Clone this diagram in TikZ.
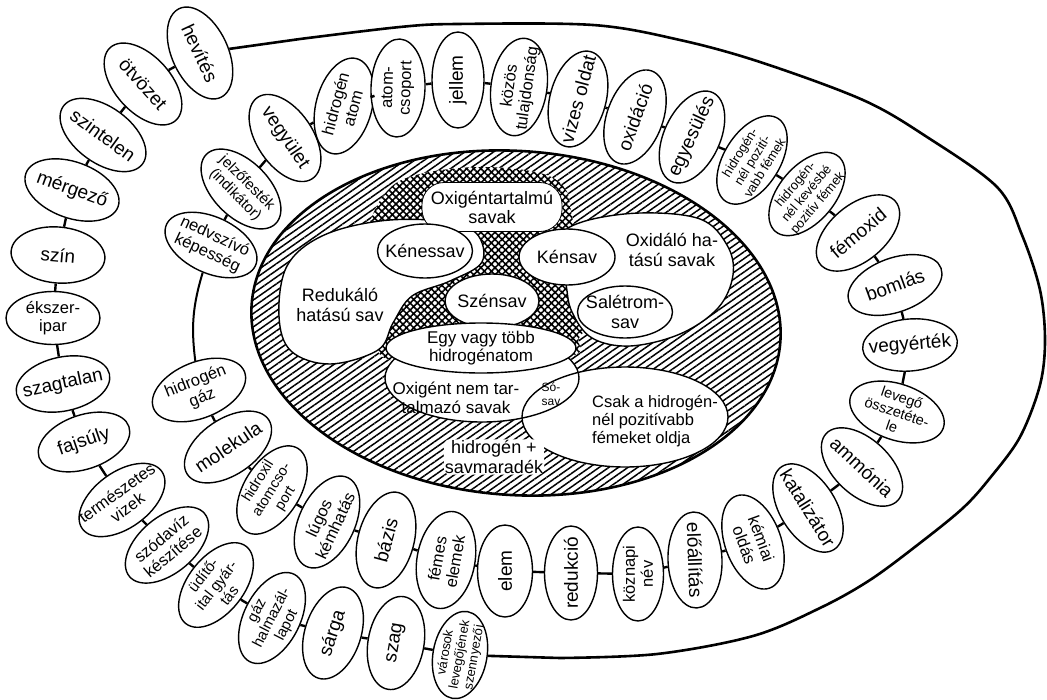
\documentclass[tikz,border=0pt]{standalone}
\usepackage{fontspec}
\setmainfont{Liberation Sans}
\usetikzlibrary{shapes.geometric,patterns.meta}

\tikzset{
  term/.style={ellipse, draw, fill=white, line width=1.4pt, minimum width=98pt, minimum height=56pt,
    inner sep=-16pt, align=center, font=\fontsize{19}{21}\selectfont},
  twoline/.style={font=\fontsize{16.5}{18}\selectfont},
  threeline/.style={font=\fontsize{13}{14.5}\selectfont},
  acid/.style={ellipse, draw, fill=white, line width=1.4pt, inner sep=-14pt, align=center,
    font=\fontsize{18}{20}\selectfont},
  label/.style={align=center, font=\fontsize{18}{20}\selectfont},
  chainlink/.style={line width=2.4pt},
  bigline/.style={line width=2.6pt, line join=round},
  whiteblob/.style={fill=white, draw, line width=1.4pt},
  hatch/.style={pattern={Lines[angle=35,distance=5.5pt,line width=1.5pt]}},
  checks/.style={pattern={Hatch[angle=45,distance=5pt,line width=1.6pt]}},
}

\begin{document}
\begin{tikzpicture}[x=1pt,y=-1pt]
\useasboundingbox (0,0) rectangle (1047,699);

% hatched acid field
\fill[hatch, rotate around={-4:(516,323)}] (516,323) ellipse [x radius=265, y radius=172];
\draw[line width=2.6pt, rotate around={-4:(516,323)}] (516,323) ellipse [x radius=265, y radius=172];
\fill[white] plot[smooth cycle, tension=0.6] coordinates {(368,230) (388,190) (420,174) (480,167) (540,173) (566,190) (575,225) (605,262) (592,318) (579,338) (572,356) (480,368) (390,360) (377,338) (365,290)};
\fill[checks] plot[smooth cycle, tension=0.6] coordinates {(368,230) (388,190) (420,174) (480,167) (540,173) (566,190) (575,225) (605,262) (592,318) (579,338) (572,356) (480,368) (390,360) (377,338) (365,290)};

% white fields
\filldraw[whiteblob] plot[smooth cycle, tension=0.6] coordinates {(279,316) (287,266) (322,236) (380,221) (440,221) (476,233) (482,262) (450,281) (412,296) (393,323) (378,350) (330,364) (291,351)};
\filldraw[whiteblob] plot[smooth cycle, tension=0.6] coordinates {(560,240) (582,222) (640,213) (700,219) (727,245) (733,275) (718,308) (680,334) (630,346) (592,338) (572,312) (566,284)};
\node[label] (redukalo) at (340,305) {Redukáló\\hatású sav};
\node[label] (oxidalo) at (672,250) {Oxidáló ha-\\tású savak};
\node[draw, fill=white, line width=0.8pt, rounded corners=22pt, minimum width=140pt, minimum height=49pt, label, font=\fontsize{18}{19}\selectfont] (oxigentart) at (492,207) {Oxigéntartalmú\\savak};
\node[acid, minimum width=95pt, minimum height=54pt] (kenessav) at (425,251) {Kénessav};
\node[acid, minimum width=96pt, minimum height=56pt] (kensav) at (567,257) {Kénsav};
\node[acid, minimum width=94pt, minimum height=54pt] (szensav) at (492,301) {Szénsav};
\node[acid, minimum width=95pt, minimum height=52pt] (saletromsav) at (625,312) {Salétrom-\\sav};

\fill[white] (482,378) ellipse [x radius=97, y radius=44];
\fill[white] (625,417) ellipse [x radius=103, y radius=50];
\draw[line width=1.4pt] (482,378) ellipse [x radius=97, y radius=44];
\draw[line width=1.4pt] (625,417) ellipse [x radius=103, y radius=50];
\node[acid, minimum width=190pt, minimum height=50pt, font=\fontsize{17}{18}\selectfont] (egyvagy) at (481,348) {Egy vagy több\\hidrogénatom};
\node[label, font=\fontsize{17}{19}\selectfont] (oxigentnem) at (456,398) {Oxigént nem tar-\\talmazó savak};
\node[label, font=\fontsize{12}{13.5}\selectfont] (sosav) at (551,394) {Só-\\sav};
\node[label, align=left, font=\fontsize{16.5}{18}\selectfont] (csak) at (655,421) {Csak a hidrogén-\\nél pozitívabb\\fémeket oldja};
\node[label, fill=white, rounded corners=6pt, inner sep=1pt] (savmaradek) at (494,457) {hidrogén +\\ savmaradék};

% outer chain
\node[term, rotate=-65] (hevites) at (200,53) {hevítés};
\node[term, rotate=-48] (otvozet) at (143,84) {ötvözet};
\node[term, rotate=-36] (szintelen) at (103,135) {szintelen};
\node[term, rotate=-20] (mergezo) at (72,190) {mérgező};
\node[term, rotate=-5, minimum width=94pt] (szin) at (58,255) {szín};
\node[term, twoline, minimum width=94pt, minimum height=53pt] (ekszeripar) at (53,318) {ékszer-\\ipar};
\node[term, rotate=12, minimum width=95pt, minimum height=54pt] (szagtalan) at (63,384) {szagtalan};
\node[term, rotate=19, minimum width=95pt, minimum height=54pt] (fajsuly) at (84,442) {fajsúly};
\node[term, twoline, rotate=36] (termeszetes) at (122,500) {természetes\\vizek};
\node[term, twoline, rotate=40] (szodaviz) at (167,545) {szódavíz\\készítése};
\node[term, rotate=52, font=\fontsize{15}{16.5}\selectfont] (uditoital) at (216,585) {üdítő-\\ital gyár-\\tás};
\node[term, rotate=63, font=\fontsize{15}{16.5}\selectfont] (gaz) at (272,618) {gáz\\halmazál-\\lapot};
\node[term, rotate=72, minimum width=95pt] (sarga) at (333,633) {sárga};
\node[term, rotate=80, minimum width=94pt] (szag) at (396,643) {szag};
\node[term, threeline, rotate=80, minimum width=88pt, minimum height=54pt] (varosok) at (460,655) {városok\\levegőjének\\szennyezői};

% inner chain
\node[term, rotate=-56] (vegyulet) at (285,138) {vegyület};
\node[term, twoline, rotate=75] (hidrogenatom) at (344,106) {hidrogén\\atom};
\node[term, twoline, rotate=88, minimum height=54pt] (atomcsoport) at (398,88) {atom-\\csoport};
\node[term, rotate=90, minimum width=96pt, minimum height=52pt] (jellem) at (458,80) {jellem};
\node[term, twoline, rotate=82, minimum height=56pt] (kozos) at (519,87) {közös\\tulajdonság};
\node[term, rotate=75] (vizes) at (578,99) {vizes oldat};
\node[term, rotate=70] (oxidacio) at (635,117) {oxidáció};
\node[term, rotate=65] (egyesules) at (692,137) {egyesülés};
\node[term, threeline, rotate=58] (pozitivabb) at (752,160) {hidrogén-\\nél pozití-\\vabb fémek};
\node[term, threeline, rotate=50] (kevesbe) at (807,194) {hidrogén-\\nél kevésbé\\pozitív fémek};
\node[term, rotate=40] (femoxid) at (858,233) {fémoxid};
\node[term, rotate=20, minimum height=54pt] (bomlas) at (895,285) {bomlás};
\node[term, rotate=5, minimum width=95pt, minimum height=52pt] (vegyertek) at (910,345) {vegyérték};
\node[term, rotate=-19, font=\fontsize{14.5}{15.5}\selectfont] (levego) at (897,412) {levegő\\összetéte-\\le};
\node[term, rotate=-43] (ammonia) at (862,467) {ammónia};
\node[term, rotate=-58] (katalizator) at (808,508) {katalizátor};
\node[term, twoline, rotate=-70] (kemiai) at (753,542) {kémiai\\oldás};
\node[term, rotate=-88, minimum width=96pt, minimum height=54pt] (eloallitas) at (695,560) {előállítás};
\node[term, twoline, rotate=90, minimum width=94pt, minimum height=51pt] (koznapi) at (638,574) {köznapi\\név};
\node[term, rotate=90, minimum width=94pt, minimum height=53pt] (redukcio) at (571,573) {redukció};
\node[term, rotate=90, minimum width=92pt, minimum height=55pt] (elem) at (505,571) {elem};
\node[term, twoline, rotate=80, minimum height=58pt] (femes) at (446,560) {fémes\\elemek};
\node[term, rotate=75] (bazis) at (386,540) {bázis};
\node[term, twoline, rotate=65] (lugos) at (327,522) {lúgos\\kémhatás};
\node[term, rotate=58, font=\fontsize{14.5}{16}\selectfont] (hidroxil) at (272,490) {hidroxil\\atomcso-\\port};
\node[term, rotate=34] (molekula) at (228,447) {molekula};
\node[term, twoline, rotate=22] (hidrogengaz) at (199,390) {hidrogén\\gáz};
\node[term, twoline, rotate=-25] (nedvszivo) at (211,245) {nedvszívó\\képesség};
\node[term, rotate=-45, font=\fontsize{15}{16.5}\selectfont] (jelzo) at (241,189) {jelzőfesték\\(indikátor)};

% outer ring line
\draw[bigline] (hevites) -- (300,39) plot[smooth, tension=0.55] coordinates {(300,39) (400,27) (457,24) (593,25) (680,40) (760,62) (863,100) (927,137) (997,187) (1022,235) (1040,290) (1045,340) (1040,385) (1020,437) (990,478) (963,508) (920,543) (870,580) (820,608) (753,636) (657,654) (560,658)} -- (varosok);

% outer chain links
\draw[chainlink] (hevites) -- (otvozet);
\draw[chainlink] (otvozet) -- (szintelen);
\draw[chainlink] (szintelen) -- (mergezo);
\draw[chainlink] (mergezo) -- (szin);
\draw[chainlink] (szin) -- (ekszeripar);
\draw[chainlink] (ekszeripar) -- (szagtalan);
\draw[chainlink] (szagtalan) -- (fajsuly);
\draw[chainlink] (fajsuly) -- (termeszetes);
\draw[chainlink] (termeszetes) -- (szodaviz);
\draw[chainlink] (szodaviz) -- (uditoital);
\draw[chainlink] (uditoital) -- (gaz);
\draw[chainlink] (gaz) -- (sarga);
\draw[chainlink] (sarga) -- (szag);
\draw[chainlink] (szag) -- (varosok);

% inner chain links
\draw[chainlink] (vegyulet) -- (hidrogenatom);
\draw[chainlink] (hidrogenatom) -- (atomcsoport);
\draw[chainlink] (atomcsoport) -- (jellem);
\draw[chainlink] (jellem) -- (kozos);
\draw[chainlink] (kozos) -- (vizes);
\draw[chainlink] (vizes) -- (oxidacio);
\draw[chainlink] (oxidacio) -- (egyesules);
\draw[chainlink] (egyesules) -- (pozitivabb);
\draw[chainlink] (pozitivabb) -- (kevesbe);
\draw[chainlink] (kevesbe) -- (femoxid);
\draw[chainlink] (femoxid) -- (bomlas);
\draw[chainlink] (bomlas) -- (vegyertek);
\draw[chainlink] (vegyertek) -- (levego);
\draw[chainlink] (levego) -- (ammonia);
\draw[chainlink] (ammonia) -- (katalizator);
\draw[chainlink] (katalizator) -- (kemiai);
\draw[chainlink] (kemiai) -- (eloallitas);
\draw[chainlink] (eloallitas) -- (koznapi);
\draw[chainlink] (koznapi) -- (redukcio);
\draw[chainlink] (redukcio) -- (elem);
\draw[chainlink] (elem) -- (femes);
\draw[chainlink] (femes) -- (bazis);
\draw[chainlink] (bazis) -- (lugos);
\draw[chainlink] (lugos) -- (hidroxil);
\draw[chainlink] (hidroxil) -- (molekula);
\draw[chainlink] (molekula) -- (hidrogengaz);
\draw[line width=2pt] (nedvszivo) to[bend right=12] (hidrogengaz);
\draw[chainlink] (nedvszivo) -- (jelzo);
\draw[chainlink] (jelzo) -- (vegyulet);
\end{tikzpicture}
\end{document}
